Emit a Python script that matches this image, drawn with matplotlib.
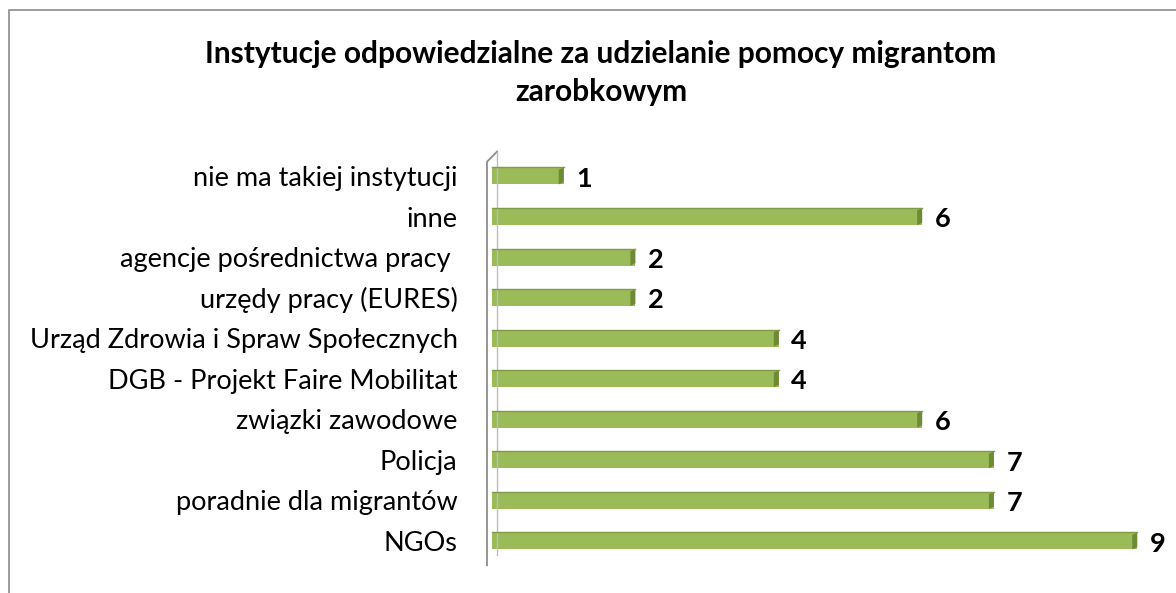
import matplotlib.pyplot as plt
from matplotlib.patches import Polygon, Rectangle

# data (bottom to top)
categories = ['NGOs', 'poradnie dla migrantów', 'Policja', 'związki zawodowe',
              'DGB - Projekt Faire Mobilitat', 'Urząd Zdrowia i Spraw Społecznych',
              'urzędy pracy (EURES)', 'agencje pośrednictwa pracy ', 'inne',
              'nie ma takiej instytucji']
values = [9, 7, 7, 6, 4, 4, 2, 2, 6, 1]
title = 'Instytucje odpowiedzialne za udzielanie pomocy migrantom\nzarobkowym'

plt.rcParams['font.family'] = ['Lato', 'DejaVu Sans']

W, H = 1176, 593
fig = plt.figure(figsize=(W / 100, H / 100), dpi=100)

# outer frame of the chart area
fig.patches.append(Rectangle((9 / W, -0.1), 1.2, 1.1 - 10 / H, transform=fig.transFigure,
                             fill=False, edgecolor='#8c8c8c', linewidth=1.2))

ax = fig.add_axes([470 / W, 18 / H, (W - 470) / W, 425 / H])
ax.set_xlim(-0.307, 9.54)
ax.set_ylim(-0.84, 9.64)
for s in ax.spines.values():
    s.set_visible(False)
ax.set_xticks([])

# thin 3D wall on the left
dx, dy = 0.14, 0.25
ax.plot([-0.07, -0.07, -0.07 + dx], [-0.6, 9.35, 9.35 + dy], color='#8c8c8c', lw=1.3,
        clip_on=False)
ax.plot([-0.07 + dx, -0.07 + dx], [9.35 + dy, -0.35], color='#bdbdbd', lw=1.0,
        clip_on=False)

h = 0.42
ed = 0.07  # depth of end face
for i, v in enumerate(values):
    ax.add_patch(Rectangle((0, i - h / 2), v, h, facecolor='#9BBB59', edgecolor='none'))
    ax.plot([0, v], [i + h / 2, i + h / 2], color='#7f9a48', lw=1.0)
    ax.add_patch(Polygon([(v - ed, i - h / 2), (v, i - h / 2 + 0.06), (v, i + h / 2),
                          (v - ed, i + h / 2 - 0.06)],
                         closed=True, facecolor='#6f8a35', edgecolor='none'))
    ax.annotate(str(v), (v, i), xytext=(9, -2), textcoords='offset points',
                ha='left', va='center', fontsize=19.5, fontweight='bold')

ax.set_yticks(range(len(categories)))
ax.set_yticklabels(categories, fontsize=19.5)
ax.tick_params(axis='y', length=0, pad=9)

fig.text(601 / W, 1 - 73 / H, title, ha='center', va='center', fontsize=21.5,
         fontweight='bold', linespacing=1.4)

fig.savefig('out.png', dpi=100)
